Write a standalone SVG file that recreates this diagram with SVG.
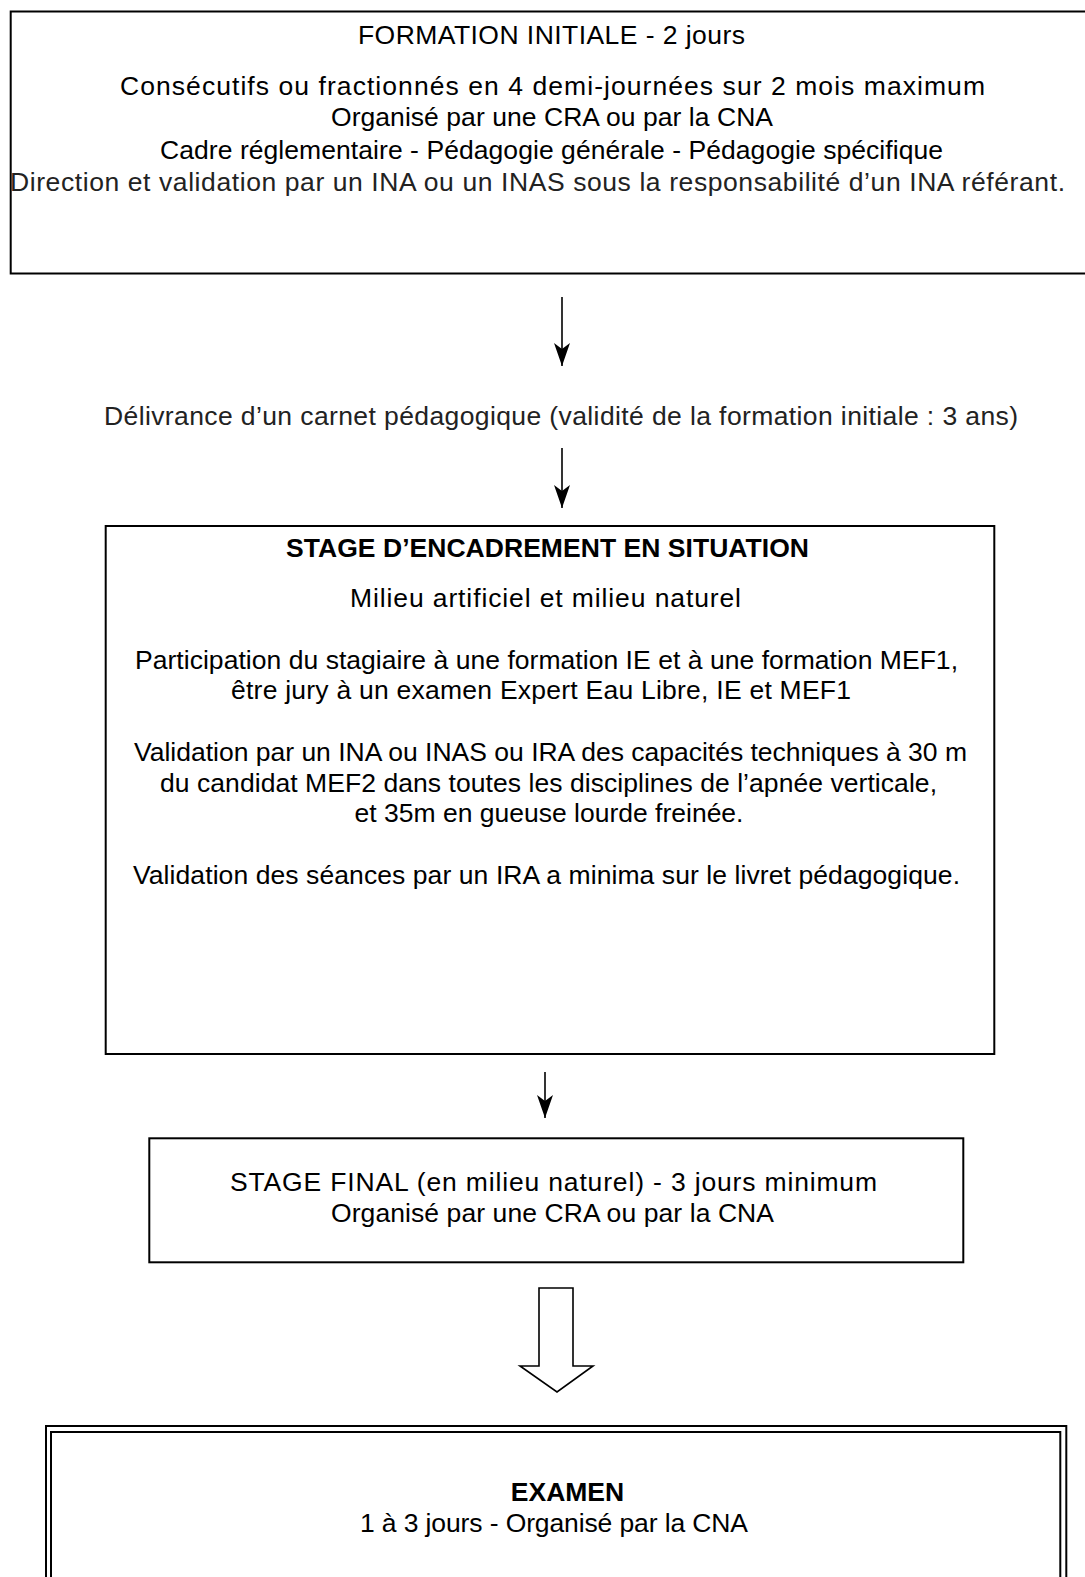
<svg xmlns="http://www.w3.org/2000/svg" width="1085" height="1577" viewBox="0 0 1085 1577">
<style>
  text { font-family: "Liberation Sans", Arial, sans-serif; font-size: 26.5px; fill: #000; text-anchor: middle; }
  .b { font-weight: bold; }
  .g { fill: #222; }
  .box { fill: none; stroke: #000; stroke-width: 2; }
  .conn { stroke: #000; stroke-width: 1.6; fill: none; }
</style>
<defs>
  <marker id="ah" markerUnits="userSpaceOnUse" markerWidth="30" markerHeight="20" refX="0" refY="0" viewBox="-24 -10 26 20" orient="auto" overflow="visible">
    <path d="M0,0 L-23,-8 L-17,0 L-23,8 Z" fill="#000"/>
  </marker>
</defs>
<rect width="1085" height="1577" fill="#fff"/>

<g id="formation-initiale">
  <rect class="box" x="10.7" y="11.5" width="1100" height="262"/>
  <text x="551.5" y="44" textLength="387" lengthAdjust="spacing">FORMATION INITIALE - 2 jours</text>
  <text x="552.5" y="95" textLength="865" lengthAdjust="spacing">Consécutifs ou fractionnés en 4 demi-journées sur 2 mois maximum</text>
  <text x="552" y="126" textLength="442" lengthAdjust="spacing">Organisé par une CRA ou par la CNA</text>
  <text x="551.5" y="159" textLength="783" lengthAdjust="spacing">Cadre réglementaire - Pédagogie générale - Pédagogie spécifique</text>
  <text class="g" x="537.5" y="191" textLength="1055" lengthAdjust="spacing">Direction et validation par un INA ou un INAS sous la responsabilité d’un INA référant.</text>
</g>

<g id="carnet">
  <text class="g" x="561" y="425" textLength="914" lengthAdjust="spacing">Délivrance d’un carnet pédagogique (validité de la formation initiale : 3 ans)</text>
</g>

<g id="stage-encadrement">
  <rect class="box" x="105.7" y="526" width="888.6" height="528"/>
  <text class="b" x="547.5" y="557" textLength="523" lengthAdjust="spacing">STAGE D’ENCADREMENT EN SITUATION</text>
  <text x="545.5" y="607" textLength="391" lengthAdjust="spacing">Milieu artificiel et milieu naturel</text>
  <text x="546.5" y="669" textLength="823" lengthAdjust="spacing">Participation du stagiaire à une formation IE et à une formation MEF1,</text>
  <text x="541" y="699" textLength="620" lengthAdjust="spacing">être jury à un examen Expert Eau Libre, IE et MEF1</text>
  <text x="550.5" y="761" textLength="833" lengthAdjust="spacing">Validation par un INA ou INAS ou IRA des capacités techniques à 30 m</text>
  <text x="548.5" y="792" textLength="777" lengthAdjust="spacing">du candidat MEF2 dans toutes les disciplines de l’apnée verticale,</text>
  <text x="549" y="822">et 35m en gueuse lourde freinée.</text>
  <text x="546.5" y="884" textLength="827" lengthAdjust="spacing">Validation des séances par un IRA a minima sur le livret pédagogique.</text>
</g>

<g id="stage-final">
  <rect class="box" x="149.3" y="1138.3" width="814" height="124"/>
  <text x="553.5" y="1191" textLength="647" lengthAdjust="spacing">STAGE FINAL (en milieu naturel) - 3 jours minimum</text>
  <text x="552.5" y="1222" textLength="443" lengthAdjust="spacing">Organisé par une CRA ou par la CNA</text>
</g>

<g id="examen">
  <rect class="box" x="46" y="1426" width="1020.3" height="200"/>
  <rect class="box" x="51" y="1432" width="1009.3" height="200"/>
  <text class="b" x="567.5" y="1501">EXAMEN</text>
  <text x="554" y="1532" textLength="388" lengthAdjust="spacing">1 à 3 jours - Organisé par la CNA</text>
</g>

<g id="connectors">
  <line class="conn" x1="562" y1="297" x2="562" y2="366" marker-end="url(#ah)"/>
  <line class="conn" x1="562" y1="448" x2="562" y2="508" marker-end="url(#ah)"/>
  <line class="conn" x1="545" y1="1072" x2="545" y2="1118" marker-end="url(#ah)"/>
  <polygon points="539,1288 573,1288 573,1366 593,1366 557,1392 520,1366 539,1366" fill="#fff" stroke="#000" stroke-width="1.6" stroke-linejoin="miter"/>
</g>
</svg>
